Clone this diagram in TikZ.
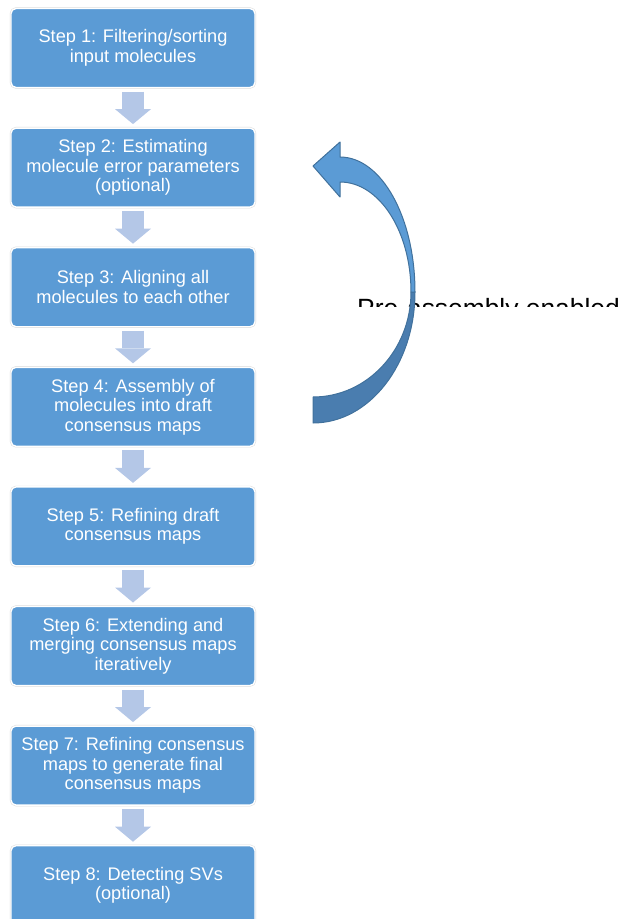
\documentclass[tikz,border=0pt]{standalone}
\usepackage{fontspec}
\setmainfont{Liberation Sans}
\usetikzlibrary{arrows.meta,positioning}
\definecolor{boxblue}{HTML}{5B9BD5}
\definecolor{flowblue}{HTML}{B4C7E7}
\definecolor{loopdark}{HTML}{4A7DAF}
\definecolor{loopline}{HTML}{41719C}

\begin{document}
\begin{tikzpicture}[x=1pt,y=-1pt,node distance=40.6pt,
	stepbox/.style={rectangle,rounded corners=5pt,fill=boxblue,draw=white,line width=1.4pt,
		preaction={draw=black!15,line width=2.3pt},minimum width=244pt,minimum height=79pt,
		outer sep=0pt,align=center,text=white,font=\fontsize{18.2}{19.5}\selectfont},
	flow/.style={draw=flowblue,line width=22pt,-{Triangle[width=36pt,length=15pt,line width=0pt]},
		shorten <=4pt,shorten >=4pt},
	bendarrow/.style={draw=loopline,line width=1pt,line join=round}]
	\useasboundingbox (0,0) rectangle (619,919);
	\node[stepbox](s1) at (133,48){Step 1: Filtering/sorting\\input molecules};
	\node[stepbox](s2)[below=of s1]{Step 2: Estimating\\molecule error parameters\\(optional)};
	\node[stepbox](s3)[below=of s2]{Step 3: Aligning all\\molecules to each other};
	\node[stepbox](s4)[below=of s3]{Step 4: Assembly of\\molecules into draft\\consensus maps};
	\node[stepbox](s5)[below=of s4]{Step 5: Refining draft\\consensus maps};
	\node[stepbox](s6)[below=of s5]{Step 6: Extending and\\merging consensus maps\\iteratively};
	\node[stepbox](s7)[below=of s6]{Step 7: Refining consensus\\maps to generate final\\consensus maps};
	\node[stepbox](s8)[below=of s7]{Step 8: Detecting SVs\\(optional)};
	
	\path (s1) edge[flow] (s2)
		  (s2) edge[flow] (s3)
		  (s3) edge[flow] (s4)
		  (s4) edge[flow] (s5)
		  (s5) edge[flow] (s6)
		  (s6) edge[flow] (s7)
		  (s7) edge[flow] (s8);
	
	% label, only its upper half shows
	\begin{scope}
		\clip (340,280) rectangle (619,306.5);
		\node[anchor=base west,inner sep=0pt,font=\fontsize{26.4}{30}\selectfont](pre) at (357,317.8){Pre-assembly enabled};
	\end{scope}
	
	% curved arrow back from step 4 to step 2
	\filldraw[bendarrow,fill=loopdark] (415,292) .. controls (415,364.4) and (369.3,423) .. (313,423)
		-- (313,397) .. controls (367.1,397) and (411,350) .. (411,292) -- cycle;
	\filldraw[bendarrow,fill=boxblue] (313,166) -- (340,142) -- (340,157)
		.. controls (381.4,157) and (415,217.4) .. (415,292) -- (411,292)
		.. controls (411,231.2) and (379.2,182) .. (340,182) -- (340,197) -- cycle;
\end{tikzpicture}
\end{document}
